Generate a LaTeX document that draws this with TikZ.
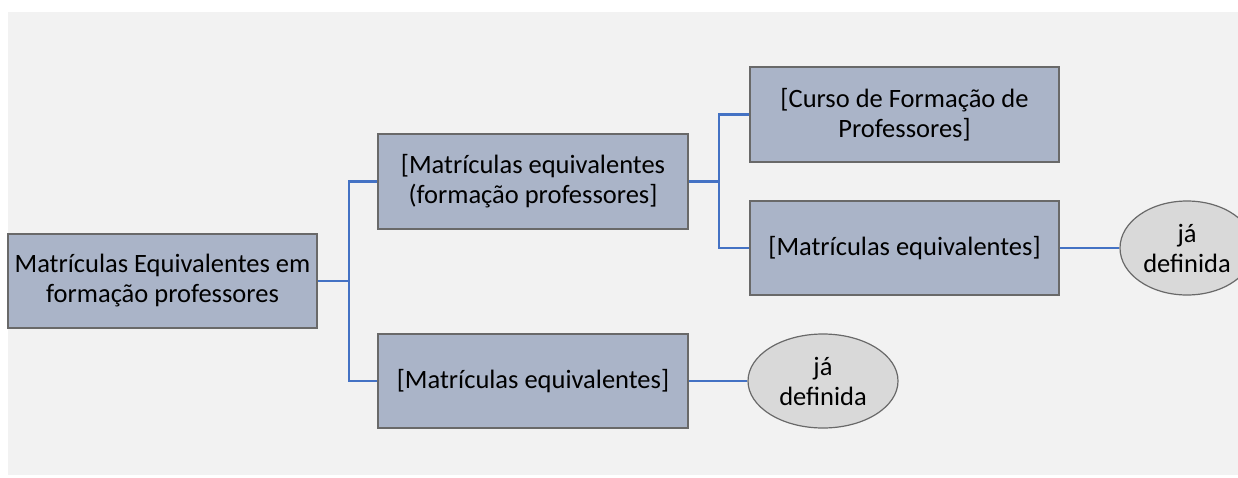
\documentclass[tikz,border=0pt]{standalone}
\usepackage{fontspec}
\setmainfont{Carlito}
\usetikzlibrary{shapes.geometric}
\definecolor{bg}{RGB}{242,242,242}
\definecolor{boxfill}{RGB}{170,180,200}
\definecolor{boxline}{RGB}{105,105,105}
\definecolor{ellfill}{RGB}{217,217,217}
\definecolor{conn}{RGB}{68,114,196}
\tikzset{
  box/.style={rectangle, draw=boxline, line width=1.8pt, fill=boxfill, minimum width=309pt, minimum height=94pt, align=center, inner sep=0pt, font=\fontsize{26.5}{30}\selectfont},
  oval/.style={ellipse, draw=boxline, line width=1.2pt, fill=ellfill, minimum height=94pt, align=center, inner sep=0pt, font=\fontsize{26.5}{30}\selectfont},
  link/.style={draw=conn, line width=2.8pt}
}
\begin{document}
\begin{tikzpicture}[x=1pt,y=-1pt]
\useasboundingbox (0,0) rectangle (1238,477);
\clip (0,0) rectangle (1238,477);
\fill[bg] (8,12) rectangle (1238,475);
\node[box] (root) at (162.5,281) {Matrículas Equivalentes em\\formação professores};
\node[box, minimum width=310pt, minimum height=95pt] (b2) at (533,181.5) {[Matrículas equivalentes\\(formação professores]};
\node[box, minimum width=310pt] (b3) at (533,381) {[Matrículas equivalentes]};
\node[box, minimum height=95pt] (b4) at (904.5,114.5) {[Curso de Formação de\\Professores]};
\node[box] (b5) at (904.5,248) {[Matrículas equivalentes]};
\node[oval, minimum width=134pt] (e1) at (1187,248) {já\\definida};
\node[oval, minimum width=150pt] (e2) at (823,381) {já\\definida};
\draw[link] (root.east) -- ++(31,0) coordinate (j1) |- (b2.west);
\draw[link] (j1) |- (b3.west);
\draw[link] (b2.east) -- ++(30,0) coordinate (j2) |- (b4.west);
\draw[link] (j2) |- (b5.west);
\draw[link] (b3.east) -- (e2.west);
\draw[link] (b5.east) -- (e1.west);
\end{tikzpicture}
\end{document}
